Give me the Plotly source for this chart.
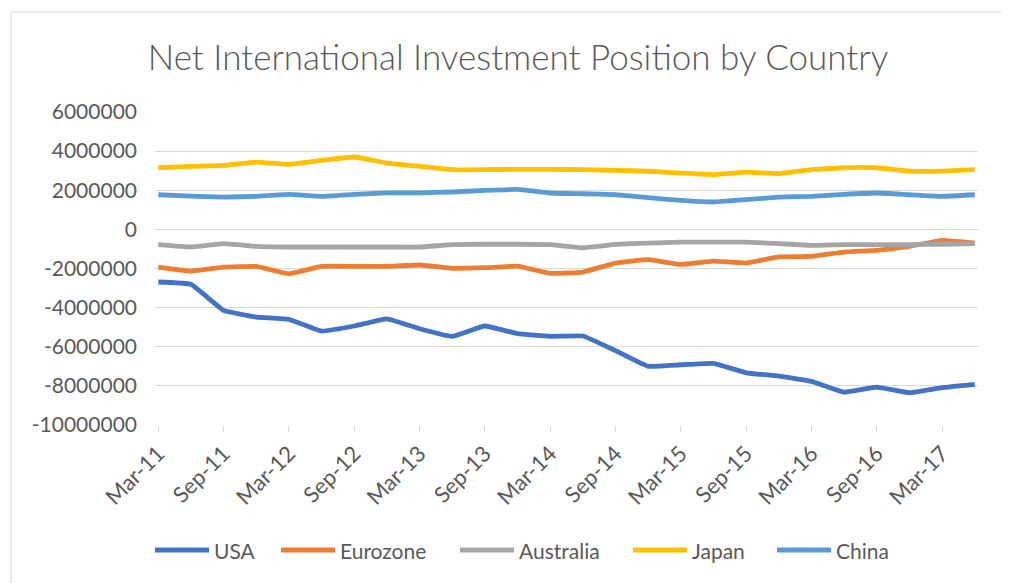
import plotly.graph_objects as go

quarters = ["Mar-11", "Jun-11", "Sep-11", "Dec-11", "Mar-12", "Jun-12", "Sep-12", "Dec-12",
            "Mar-13", "Jun-13", "Sep-13", "Dec-13", "Mar-14", "Jun-14", "Sep-14", "Dec-14",
            "Mar-15", "Jun-15", "Sep-15", "Dec-15", "Mar-16", "Jun-16", "Sep-16", "Dec-16",
            "Mar-17", "Jun-17"]

usa = [-2690000, -2810000, -4140000, -4480000, -4600000, -5200000, -4940000, -4570000,
       -5080000, -5470000, -4940000, -5330000, -5470000, -5450000, -6200000, -7000000,
       -6920000, -6850000, -7330000, -7500000, -7770000, -8320000, -8060000, -8350000,
       -8090000, -7920000]
eurozone = [-1930000, -2130000, -1930000, -1890000, -2270000, -1890000, -1890000, -1890000,
            -1820000, -1990000, -1960000, -1880000, -2250000, -2180000, -1720000, -1550000,
            -1790000, -1620000, -1720000, -1410000, -1380000, -1160000, -1070000, -870000,
            -560000, -700000]
australia = [-780000, -900000, -730000, -870000, -900000, -900000, -900000, -900000,
             -900000, -780000, -760000, -760000, -780000, -940000, -770000, -700000,
             -650000, -650000, -650000, -730000, -820000, -780000, -780000, -780000,
             -760000, -730000]
japan = [3150000, 3220000, 3270000, 3440000, 3320000, 3530000, 3700000, 3390000,
         3220000, 3050000, 3050000, 3070000, 3070000, 3050000, 3020000, 2970000,
         2880000, 2800000, 2930000, 2850000, 3050000, 3150000, 3150000, 2980000,
         2980000, 3050000]
china = [1770000, 1700000, 1650000, 1690000, 1790000, 1690000, 1790000, 1870000,
         1870000, 1910000, 1990000, 2040000, 1860000, 1820000, 1770000, 1620000,
         1480000, 1400000, 1520000, 1650000, 1690000, 1790000, 1860000, 1770000,
         1690000, 1770000]

y_ticks = [6000000, 4000000, 2000000, 0, -2000000, -4000000, -6000000, -8000000, -10000000]

series_names = ["USA", "Eurozone", "Australia", "Japan", "China"]
series_values = [usa, eurozone, australia, japan, china]
series_colors = ["#4472C4", "#ED7D31", "#A5A5A5", "#FFC000", "#5B9BD5"]

# ---- layout constants (page pixels; the page body adds an 8px offset) ----
W, H = 1001, 575
L, R, T, B = 147, 31, 104, 158
PW, PH = W - L - R, H - T - B


def px(x):  # page x -> paper x
    return (x - 8 - L) / PW


def py(y):  # page y -> paper y
    return (H - B - (y - 8)) / PH


legend_starts = [155, 281, 460, 633, 777]
legend_line_len = 54
legend_y = 550

x_idx = list(range(len(quarters)))
fig = go.Figure()
for name, vals, color in zip(series_names, series_values, series_colors):
    fig.add_trace(go.Scatter(x=x_idx, y=vals, name=name, mode="lines", showlegend=False,
                             line=dict(color=color, width=4.8, shape="spline", smoothing=0.3)))

font_family = "Lato, 'Open Sans', sans-serif"
fig.update_layout(
    width=W, height=H,
    margin=dict(l=L, r=R, t=T, b=B),
    paper_bgcolor="white", plot_bgcolor="white",
    title=dict(text="Net International Investment Position by Country",
               x=(518 - 8) / W, xanchor="center", xref="container",
               y=1 - (58 - 8) / H, yanchor="middle", yref="container",
               font=dict(family=font_family, size=35, color="#595959", weight=300)),
    font=dict(family=font_family, color="#595959"),
    showlegend=False,
)
fig.update_yaxes(range=[-10000000, 6000000], tickvals=y_ticks,
                 ticktext=[str(v) for v in y_ticks],
                 showgrid=True, gridcolor="#D9D9D9", gridwidth=1,
                 zeroline=False, showline=False, ticks="",
                 ticklabelstandoff=17,
                 tickfont=dict(size=21, color="#595959"))
fig.update_xaxes(range=[-0.1, 25.1], tickvals=x_idx[::2],
                 ticktext=quarters[::2], tickangle=-45,
                 showgrid=False, zeroline=False,
                 showline=False, ticks="outside", ticklen=6, tickcolor="#D9D9D9",
                 tickfont=dict(size=22, color="#595959"))

# chart frame
fig.add_shape(type="rect", xref="paper", yref="paper",
              x0=px(11), x1=px(1004), y0=py(590), y1=py(12),
              line=dict(color="#D9D9D9", width=1), layer="below")

# legend (line sample + label)
for name, color, xs in zip(series_names, series_colors, legend_starts):
    fig.add_shape(type="line", xref="paper", yref="paper",
                  x0=px(xs), x1=px(xs + legend_line_len), y0=py(legend_y), y1=py(legend_y),
                  line=dict(color=color, width=5))
    fig.add_annotation(text=name, xref="paper", yref="paper",
                       x=px(xs + legend_line_len + 3), y=py(legend_y),
                       xanchor="left", yanchor="middle", showarrow=False,
                       font=dict(family=font_family, size=21, color="#595959"))

fig.write_html("out.html")
